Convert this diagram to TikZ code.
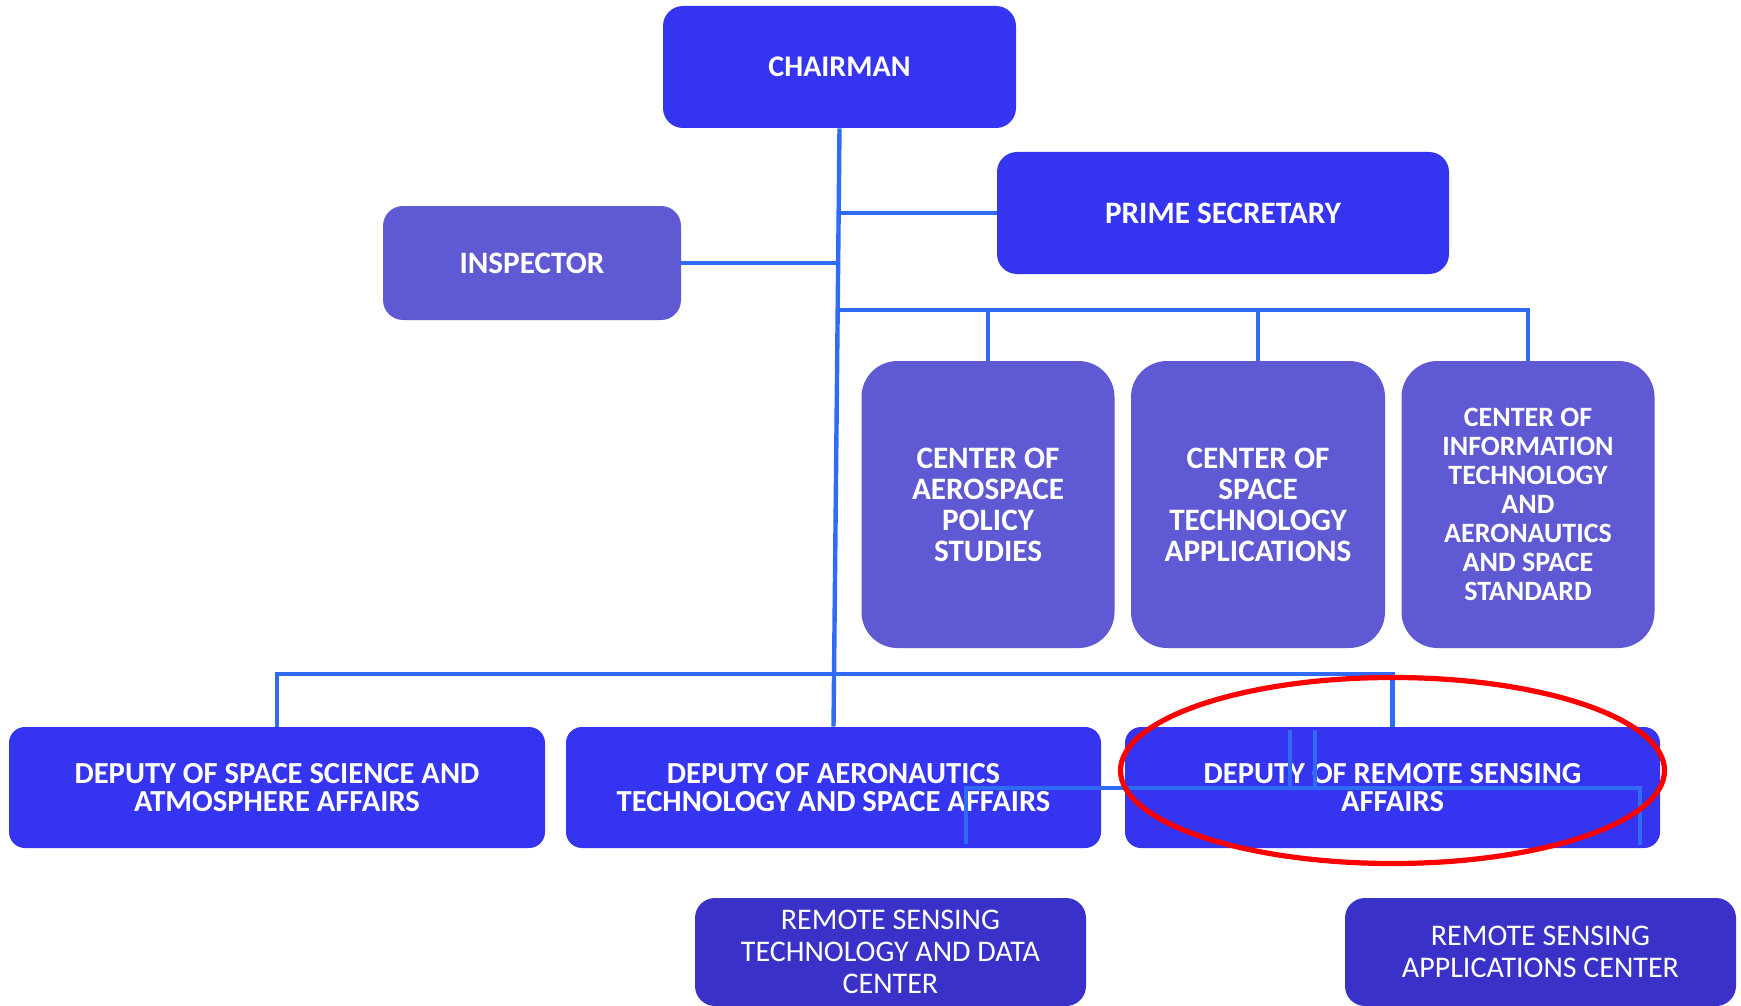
\documentclass[tikz,border=0pt]{standalone}
\usepackage{fontspec}
\setmainfont{Carlito}
\usetikzlibrary{positioning}

\definecolor{chairblue}{RGB}{53,52,240}
\definecolor{centerblue}{RGB}{95,90,212}
\definecolor{unitblue}{RGB}{58,49,200}
\definecolor{linkblue}{RGB}{47,107,245}

\begin{document}
\begin{tikzpicture}[x=0.5pt, y=-0.5pt]
        \useasboundingbox (0,0) rectangle (1741,1006);
        \tikzset{
            box size/.style 2 args={minimum width=#1*0.5pt, minimum height=#2*0.5pt},
            office/.style={
                fill=chairblue, text=white, align=center, inner sep=0pt,
                rounded corners=10pt, font=\bfseries\fontsize{15.6}{17}\selectfont
            },
            center unit/.style={
                office, fill=centerblue, rounded corners=18pt,
                font=\bfseries\fontsize{15.6}{15.5}\selectfont
            },
            deputy/.style={
                office, rounded corners=8pt, font=\bfseries\fontsize{15.3}{14}\selectfont
            },
            sub unit/.style={
                office, fill=unitblue, rounded corners=10pt,
                font=\fontsize{15}{16}\selectfont
            },
            link/.style={draw=linkblue, line width=2.2pt},
        }

        % top
        \node[office, box size={353}{122}, font=\bfseries\fontsize{15}{17}\selectfont] (chair) at (839.5,67) {CHAIRMAN};
        \node[office, box size={452}{122}] (prime) at (1223,213) {PRIME SECRETARY};
        \node[office, fill=centerblue, box size={298}{114}] (insp) at (532,263) {INSPECTOR};

        % centers
        \node[center unit, box size={253}{287}] (cen1) at (988,504.5)
            {CENTER OF\\AEROSPACE\\POLICY\\STUDIES};
        \node[center unit, box size={254}{287}] (cen2) at (1258,504.5)
            {CENTER OF\\SPACE\\TECHNOLOGY\\APPLICATIONS};
        \node[center unit, box size={253}{287}, font=\bfseries\fontsize{14}{14.5}\selectfont] (cen3) at (1528,504.5)
            {CENTER OF\\INFORMATION\\TECHNOLOGY\\AND\\AERONAUTICS\\AND SPACE\\STANDARD};

        % deputies
        \node[deputy, box size={536}{121}] (dep1) at (277,787.5)
            {DEPUTY OF SPACE SCIENCE AND\\ATMOSPHERE AFFAIRS};
        \node[deputy, box size={535}{121}] (dep2) at (833.5,787.5)
            {DEPUTY OF AERONAUTICS\\TECHNOLOGY AND SPACE AFFAIRS};
        \node[deputy, box size={535}{121}] (dep3) at (1392.5,787.5)
            {DEPUTY OF REMOTE SENSING\\AFFAIRS};

        % remote sensing units
        \node[sub unit, box size={391}{108}] (rstdc) at (890.5,952)
            {REMOTE SENSING\\TECHNOLOGY AND DATA\\CENTER};
        \node[sub unit, box size={391}{108}] (rsac) at (1540.5,952)
            {REMOTE SENSING\\APPLICATIONS CENTER};

        % trunk and branches
        \draw[link] (chair.south) -- (dep2.north);
        \draw[link] (prime.west) -- (prime.west -| chair.south);
        \draw[link] (insp.east) -- (insp.east -| chair.south);

        \coordinate (cbus) at (839,310);
        \draw[link] (cbus) -| (cen3.north);
        \foreach \c in {cen1, cen2} {
            \draw[link] (\c.north) -- (\c.north |- cbus);
        }

        \coordinate (dbus) at (836,674);
        \draw[link] (dep1.north) |- (dep3.north |- dbus) -- (dep3.north);

        % stray bracket over the remote sensing deputy
        \coordinate (sl) at (966,788);
        \coordinate (sr) at (1640,788);
        \draw[link, line width=1.6pt] (966,844) -- (sl) -- (sr) -- (1640,845);
        \foreach \x in {1290, 1315} {
            \draw[link, line width=1.6pt] (\x,730) -- (\x,788);
        }

        % highlight
        \draw[red, line width=2.6pt] (dep3.center) ++(0,-17) ellipse (136pt and 46.5pt);
\end{tikzpicture}
\end{document}
